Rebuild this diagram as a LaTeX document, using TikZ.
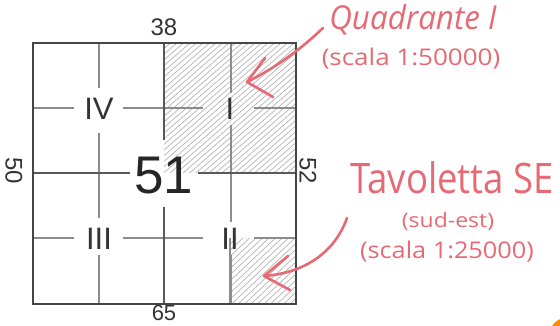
\documentclass[tikz,border=0pt]{standalone}
\usepackage{fontspec}
\setmainfont{Liberation Sans}
\newfontfamily\handfont{Open Sans}
\definecolor{redhand}{RGB}{230,105,115}
\definecolor{gridgray}{RGB}{140,140,140}
\definecolor{darkgray}{RGB}{70,70,70}
\definecolor{hatchgray}{RGB}{180,180,180}
\begin{document}
\begin{tikzpicture}[x=1pt,y=-1pt,
  border/.style={draw=darkgray,line width=1.8pt},
  midline/.style={draw=darkgray!90,line width=1.1pt},
  qline/.style={draw=gridgray,line width=1.1pt},
  hatchline/.style={draw=hatchgray,line width=0.7pt},
  numlabel/.style={text=black!80,font=\fontsize{24}{24}\selectfont,inner sep=0pt},
  roman/.style={text=black!80,font=\fontsize{31}{31}\selectfont,inner sep=0pt},
  handtext/.style={text=redhand,inner sep=0pt},
  redarrow/.style={draw=redhand,line width=2.6pt,line cap=round,line join=round}]
\useasboundingbox (0,0) rectangle (560,326);
% hatching
\begin{scope}
  \clip (164,43) rectangle (296,173);
  \foreach \k in {0,6.5,...,300} {\draw[hatchline] (164+\k-150,173) -- (164+\k,43);}
\end{scope}
\begin{scope}
  \clip (230,238) rectangle (296,304);
  \foreach \k in {0,6.5,...,150} {\draw[hatchline] (230+\k-70,304) -- (230+\k,238);}
\end{scope}
% quarter grid lines with gaps
\draw[qline] (33,108) -- (74,108) (123,108) -- (203,108) (254,108) -- (296,108);
\draw[qline] (33,238) -- (74,238) (123,238) -- (203,238) (254,238) -- (296,238);
\draw[qline] (99,43) -- (99,88) (99,133) -- (99,218) (99,255) -- (99,304);
\draw[qline] (231,43) -- (231,93) (231,125) -- (231,222) (231,255) -- (231,304);
% middle lines
\draw[midline] (164,43) -- (164,140) (164,207) -- (164,304);
\draw[midline] (33,173) -- (130,173) (198,173) -- (296,173);
\draw[qline] (230,238) -- (230,304);
% border
\draw[border] (33,43) rectangle (296,304);
% labels
\node[text=black!85,font=\fontsize{53}{53}\selectfont,inner sep=0pt] (n51) at (164,176) {51};
\node[roman] (iv) at (99,109) {IV};
\node[roman] (i) at (230,109) {I};
\node[roman] (iii) at (99,239) {III};
\node[roman] (ii) at (230,239) {II};
\node[numlabel] (n38) at (164,27) {38};
\node[numlabel,font=\fontsize{22}{22}\selectfont] (n65) at (164,313) {65};
\node[numlabel,rotate=-90] (n50) at (14,171) {50};
\node[numlabel,rotate=-90] (n52) at (308,171) {52};
% red texts
\node[handtext,font=\handfont\itshape\fontsize{33}{33}\selectfont] (quad) at (413,20) {\scalebox{0.95}[1]{Quadrante I}};
\node[handtext,font=\handfont\fontsize{23}{23}\selectfont] (sc1) at (411,59) {\scalebox{1.13}[1]{(scala 1:50000)}};
\node[handtext,font=\handfont\fontsize{42}{42}\selectfont] (tav) at (452,178) {\scalebox{0.87}[1]{Tavoletta SE}};
\node[handtext,font=\handfont\fontsize{20}{20}\selectfont] (sud) at (448,221) {\scalebox{1.15}[1]{(sud-est)}};
\node[handtext,font=\handfont\fontsize{23}{23}\selectfont] (sc2) at (447,252) {\scalebox{1.1}[1]{(scala 1:25000)}};
% arrows
\coordinate (a1s) at (323,28);
\coordinate (a1t) at (247,82);
\coordinate (a2s) at (347,218);
\coordinate (a2t) at (264,276);
\draw[redarrow] (a1s) .. controls (300,50) and (275,68) .. (a1t);
\draw[redarrow] (265,58) -- (a1t) -- (273,97);
\draw[redarrow] (a2s) .. controls (335,252) and (305,273) .. (a2t);
\draw[redarrow] (288,256) -- (a2t) -- (290,290);
% orange corner mark
\begin{scope}
  \clip (0,0) rectangle (560,326);
  \fill[orange!90!yellow] (566,334) circle (16);
\end{scope}
\end{tikzpicture}
\end{document}
